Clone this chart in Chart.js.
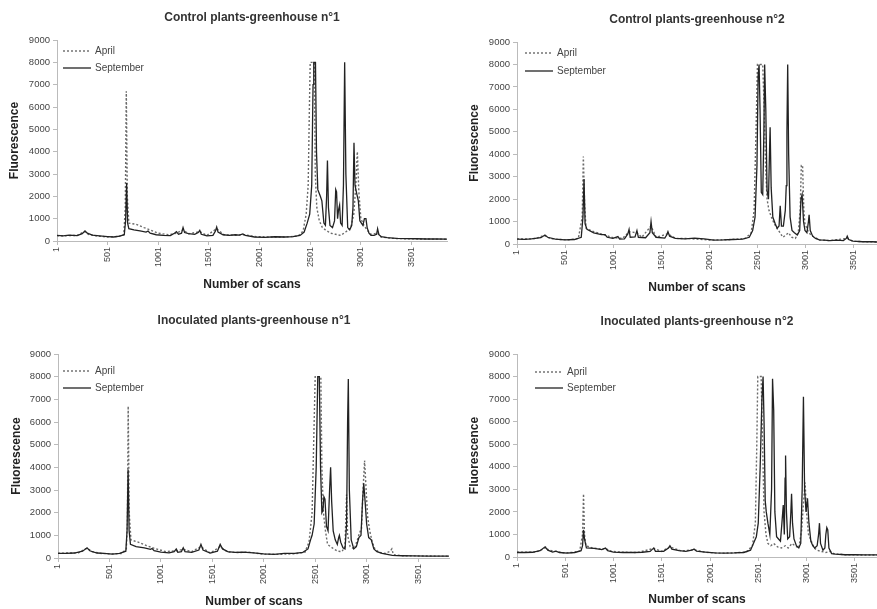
<!DOCTYPE html>
<html>
<head>
<meta charset="utf-8">
<script src="https://cdn.jsdelivr.net/npm/chart.js@4.4.1/dist/chart.umd.min.js"></script>
<style>
  body { margin: 0; background: #fff; width: 877px; height: 609px; overflow: hidden; position: relative; }
  canvas { position: absolute; }
</style>
</head>
<body>
<canvas id="c1" width="450" height="300" style="left:0;top:0"></canvas>
<canvas id="c2" width="437" height="300" style="left:440px;top:0"></canvas>
<canvas id="c3" width="450" height="309" style="left:0;top:300px"></canvas>
<canvas id="c4" width="437" height="309" style="left:440px;top:300px"></canvas>
<script>
// tick labels and titles
const xTickValues = [1, 501, 1001, 1501, 2001, 2501, 3001, 3501];
const panelTitles = ['Control plants-greenhouse n°1', 'Control plants-greenhouse n°2',
                     'Inoculated plants-greenhouse n°1', 'Inoculated plants-greenhouse n°2'];
const seriesNames = ['April', 'September'];

// Control plants - greenhouse 1
const c1AprilScans = [1, 100, 200, 260, 280, 310, 400, 500, 600, 660, 675, 685, 695, 710, 780, 860, 920, 1000, 1100, 1180, 1245, 1300, 1410, 1480, 1577, 1650, 1760, 1850, 1950, 2100, 2250, 2380, 2430, 2460, 2480, 2492, 2500, 2540, 2550, 2565, 2590, 2620, 2650, 2700, 2750, 2800, 2850, 2900, 2930, 2950, 2965, 2980, 3000, 3030, 3060, 3100, 3165, 3200, 3300, 3450, 3600, 3850];
const c1AprilValues = [230, 240, 250, 400, 420, 300, 220, 180, 200, 280, 1500, 6700, 2000, 800, 750, 600, 500, 350, 280, 350, 500, 320, 420, 250, 550, 280, 260, 280, 200, 180, 180, 220, 450, 1200, 2500, 6000, 8000, 8000, 3000, 1500, 900, 600, 500, 350, 300, 250, 400, 600, 1200, 2500, 4000, 2200, 1000, 700, 500, 300, 350, 180, 120, 100, 90, 80];
const c1SeptScans = [1, 60, 120, 200, 250, 277, 300, 350, 420, 500, 560, 620, 665, 678, 688, 698, 710, 760, 820, 880, 900, 920, 980, 1050, 1120, 1160, 1180, 1200, 1230, 1245, 1260, 1300, 1360, 1395, 1410, 1425, 1480, 1540, 1565, 1577, 1590, 1640, 1700, 1760, 1800, 1835, 1860, 1950, 2050, 2150, 2250, 2330, 2400, 2440, 2470, 2495, 2515, 2528, 2535, 2552, 2562, 2575, 2600, 2615, 2635, 2650, 2662, 2670, 2680, 2695, 2720, 2740, 2752, 2760, 2770, 2780, 2790, 2800, 2815, 2828, 2840, 2852, 2870, 2890, 2910, 2922, 2932, 2942, 2960, 2975, 2990, 3005, 3020, 3035, 3050, 3062, 3080, 3100, 3130, 3155, 3165, 3178, 3200, 3260, 3350, 3450, 3550, 3650, 3750, 3850];
const c1SeptValues = [250, 230, 260, 240, 330, 450, 350, 260, 230, 200, 180, 220, 280, 900, 2600, 800, 550, 500, 450, 400, 450, 350, 280, 250, 240, 350, 420, 300, 350, 600, 380, 330, 300, 380, 480, 300, 230, 250, 450, 620, 400, 280, 250, 280, 260, 320, 250, 180, 160, 190, 180, 200, 250, 400, 800, 1200, 2500, 7000, 8000, 8000, 4000, 2300, 2000, 1800, 800, 700, 2000, 3600, 1500, 700, 600, 900, 2300, 2200, 1000, 1400, 1600, 800, 700, 2500, 8000, 3000, 600, 500, 700, 1500, 4400, 2500, 2100, 1800, 900, 800, 700, 1000, 1000, 600, 350, 250, 250, 300, 550, 280, 200, 150, 120, 110, 100, 90, 90, 80];

// Control plants - greenhouse 2
const c2AprilScans = [1, 100, 200, 280, 300, 350, 450, 550, 640, 680, 692, 705, 720, 800, 900, 1000, 1100, 1168, 1250, 1300, 1397, 1450, 1573, 1650, 1800, 2000, 2200, 2380, 2440, 2470, 2490, 2505, 2560, 2575, 2590, 2605, 2625, 2650, 2680, 2710, 2740, 2770, 2800, 2830, 2860, 2900, 2930, 2950, 2962, 2975, 2988, 3000, 3030, 3060, 3100, 3150, 3250, 3440, 3500, 3650, 3750];
const c2AprilValues = [230, 220, 250, 380, 350, 240, 200, 190, 250, 1200, 3900, 1800, 700, 550, 420, 280, 250, 550, 500, 300, 800, 300, 450, 250, 240, 180, 190, 250, 500, 1500, 5000, 8000, 8000, 6000, 3400, 2000, 1500, 1200, 900, 700, 500, 300, 400, 500, 300, 250, 500, 1500, 3500, 3500, 1500, 900, 600, 400, 300, 180, 150, 250, 120, 100, 90];
const c2SeptScans = [1, 80, 150, 250, 292, 320, 400, 500, 600, 670, 688, 699, 710, 730, 800, 880, 918, 940, 1000, 1052, 1070, 1120, 1155, 1168, 1180, 1230, 1250, 1265, 1340, 1385, 1397, 1410, 1450, 1540, 1560, 1573, 1590, 1650, 1750, 1850, 1950, 2050, 2150, 2250, 2350, 2420, 2455, 2480, 2500, 2512, 2522, 2532, 2545, 2560, 2572, 2580, 2592, 2605, 2620, 2630, 2637, 2648, 2665, 2690, 2710, 2730, 2742, 2755, 2775, 2795, 2805, 2812, 2820, 2830, 2845, 2865, 2890, 2920, 2945, 2958, 2970, 2985, 3000, 3020, 3036, 3043, 3055, 3080, 3110, 3150, 3200, 3260, 3330, 3400, 3430, 3440, 3455, 3500, 3600, 3700, 3750];
const c2SeptValues = [220, 210, 230, 280, 400, 300, 220, 180, 200, 300, 1200, 2900, 900, 650, 500, 420, 420, 300, 250, 330, 220, 230, 450, 650, 300, 320, 600, 300, 280, 500, 1000, 500, 300, 260, 400, 550, 350, 250, 230, 260, 230, 170, 180, 200, 220, 300, 600, 1200, 3500, 7500, 8000, 6000, 2300, 2200, 5000, 8000, 6000, 2400, 2000, 4000, 5200, 2500, 1200, 900, 700, 800, 1700, 800, 800, 1500, 2600, 5000, 8000, 4000, 1200, 600, 500, 400, 600, 2000, 2200, 1000, 600, 500, 1000, 1300, 600, 350, 250, 180, 170, 150, 170, 150, 250, 350, 200, 130, 100, 100, 90];

// Inoculated plants - greenhouse 1
const c3AprilScans = [1, 100, 200, 265, 290, 330, 420, 520, 620, 665, 675, 683, 693, 710, 780, 860, 940, 1050, 1150, 1218, 1300, 1390, 1480, 1577, 1650, 1750, 1850, 2000, 2150, 2300, 2400, 2440, 2470, 2490, 2500, 2555, 2565, 2580, 2600, 2620, 2650, 2680, 2720, 2760, 2790, 2805, 2815, 2840, 2880, 2910, 2930, 2950, 2965, 2980, 2995, 3010, 3030, 3055, 3080, 3120, 3180, 3230, 3245, 3260, 3350, 3500, 3800];
const c3AprilValues = [210, 220, 230, 400, 420, 280, 200, 180, 200, 400, 1500, 6700, 2000, 800, 700, 550, 420, 280, 320, 380, 280, 500, 220, 500, 260, 240, 260, 170, 160, 190, 250, 700, 2000, 6000, 8000, 8000, 4000, 2000, 1200, 600, 500, 400, 300, 280, 500, 2800, 1000, 500, 400, 800, 1100, 1300, 3000, 4300, 3000, 1800, 1200, 700, 400, 250, 200, 300, 400, 150, 100, 90, 80];
const c3SeptScans = [1, 80, 160, 240, 283, 310, 380, 450, 530, 600, 660, 672, 682, 692, 705, 760, 840, 900, 915, 935, 1000, 1080, 1130, 1150, 1165, 1200, 1218, 1235, 1300, 1370, 1390, 1410, 1480, 1550, 1577, 1600, 1650, 1720, 1800, 1900, 2000, 2100, 2200, 2300, 2380, 2430, 2455, 2470, 2490, 2510, 2525, 2540, 2552, 2565, 2575, 2585, 2595, 2610, 2625, 2640, 2650, 2660, 2675, 2695, 2715, 2728, 2735, 2748, 2770, 2790, 2805, 2815, 2822, 2832, 2850, 2875, 2900, 2925, 2945, 2960, 2972, 2985, 3000, 3020, 3045, 3070, 3100, 3150, 3200, 3250, 3350, 3450, 3600, 3800];
const c3SeptValues = [200, 200, 220, 300, 450, 320, 220, 200, 170, 200, 300, 1200, 3900, 1200, 600, 500, 450, 380, 420, 320, 260, 230, 280, 400, 250, 280, 450, 280, 250, 350, 600, 350, 220, 300, 600, 400, 280, 250, 260, 230, 180, 160, 200, 200, 250, 400, 800, 1000, 1500, 4000, 8000, 8000, 4000, 2000, 2100, 2700, 2600, 1400, 1200, 3000, 4000, 2500, 1200, 800, 600, 900, 1000, 700, 450, 400, 1500, 6000, 7900, 3000, 800, 400, 500, 900, 1000, 2500, 3300, 2500, 1500, 900, 800, 400, 280, 200, 160, 120, 100, 90, 80, 80];

// Inoculated plants - greenhouse 2
const c4AprilScans = [1, 100, 200, 270, 300, 330, 400, 480, 580, 650, 680, 690, 700, 715, 780, 880, 917, 980, 1100, 1250, 1418, 1500, 1585, 1700, 1835, 1950, 2100, 2250, 2380, 2440, 2470, 2485, 2495, 2530, 2545, 2560, 2580, 2600, 2630, 2660, 2700, 2740, 2780, 2810, 2850, 2880, 2920, 2950, 2970, 2985, 3000, 3020, 3050, 3080, 3110, 3150, 3200, 3250, 3280, 3400, 3550, 3730];
const c4AprilValues = [220, 210, 220, 350, 430, 300, 250, 190, 200, 260, 1000, 2800, 1000, 500, 400, 350, 380, 250, 210, 200, 380, 250, 450, 270, 320, 210, 170, 180, 230, 500, 1500, 5000, 8000, 8000, 5000, 2000, 1000, 600, 500, 600, 450, 400, 500, 400, 600, 500, 400, 1200, 2500, 3300, 2000, 1000, 700, 400, 300, 250, 200, 250, 150, 100, 90, 90];
const c4SeptScans = [1, 80, 160, 240, 292, 320, 370, 405, 440, 520, 600, 665, 680, 690, 700, 720, 800, 880, 917, 940, 1000, 1100, 1200, 1300, 1380, 1405, 1418, 1435, 1520, 1570, 1585, 1605, 1680, 1750, 1810, 1835, 1860, 1950, 2050, 2150, 2250, 2350, 2420, 2460, 2480, 2500, 2520, 2538, 2550, 2560, 2572, 2583, 2600, 2620, 2638, 2648, 2660, 2672, 2690, 2710, 2730, 2745, 2759, 2770, 2778, 2783, 2792, 2805, 2825, 2838, 2845, 2855, 2870, 2895, 2920, 2940, 2955, 2968, 2980, 2995, 3010, 3025, 3045, 3065, 3085, 3110, 3125, 3134, 3145, 3170, 3190, 3200, 3210, 3220, 3232, 3260, 3300, 3400, 3500, 3600, 3730];
const c4SeptValues = [200, 200, 210, 280, 450, 300, 220, 260, 200, 170, 200, 280, 500, 1200, 800, 400, 380, 330, 400, 280, 220, 200, 200, 210, 250, 350, 400, 250, 250, 400, 500, 350, 280, 250, 300, 350, 260, 220, 180, 170, 180, 200, 300, 700, 900, 1500, 4000, 7000, 8000, 6000, 2500, 2000, 1500, 1000, 3000, 7900, 6500, 2000, 900, 800, 700, 1500, 2300, 1000, 3500, 4500, 2000, 800, 900, 2000, 2800, 1500, 800, 500, 400, 600, 3000, 7100, 3000, 2000, 2600, 1500, 700, 500, 400, 500, 1000, 1500, 600, 300, 400, 1000, 1300, 1200, 400, 150, 130, 100, 100, 90, 90];

Chart.defaults.font.family = '"Liberation Sans", Arial, sans-serif';
Chart.defaults.color = '#444';

function toPoints(scans, values) {
  return scans.map((s, i) => ({ x: s, y: values[i] }));
}

// legend drawn inside the plot, top-left
function insideLegend(dx, rows) {
  return {
    id: 'insideLegend',
    afterDraw(chart) {
      const ctx = chart.ctx, a = chart.chartArea;
      chart.data.datasets.forEach((ds, i) => {
        const y = a.top + rows[i];
        ctx.save();
        ctx.strokeStyle = ds.borderColor;
        ctx.lineWidth = ds.borderWidth;
        ctx.setLineDash(ds.borderDash || []);
        ctx.beginPath();
        ctx.moveTo(a.left + dx, y);
        ctx.lineTo(a.left + dx + 28, y);
        ctx.stroke();
        ctx.setLineDash([]);
        ctx.fillStyle = '#444';
        ctx.font = '10px "Liberation Sans", Arial, sans-serif';
        ctx.textBaseline = 'middle';
        ctx.fillText(ds.label, a.left + dx + 32, y);
        ctx.restore();
      });
    }
  };
}

function drawPanel(id, title, april, sept, L) {
  const axisGrid = { drawOnChartArea: false, drawTicks: true, tickLength: 4, color: '#bbb' };
  const boldFont = { size: 12, weight: 'bold' };
  new Chart(document.getElementById(id), {
    type: 'line',
    data: {
      datasets: [
        { label: seriesNames[0], data: april, borderColor: '#6a6a6a', borderWidth: 1.4, borderDash: [2, 2], order: 1 },
        { label: seriesNames[1], data: sept, borderColor: '#222', borderWidth: 1.3, order: 0 }
      ]
    },
    plugins: [insideLegend(L.legDx, L.legRows)],
    options: {
      responsive: false,
      animation: false,
      layout: { padding: { left: 0, right: L.padR, top: 0, bottom: 0 } },
      elements: { point: { radius: 0 }, line: { tension: 0 } },
      plugins: {
        legend: { display: false },
        tooltip: { enabled: false },
        title: {
          display: true, text: title, fullSize: false, color: '#333',
          font: boldFont, padding: { top: L.tTop, bottom: L.tBot }
        }
      },
      scales: {
        x: {
          type: 'linear', min: 1, max: L.xMax,
          afterBuildTicks: s => { s.ticks = xTickValues.map(v => ({ value: v })); },
          afterFit: s => { s.height = L.xH; },
          ticks: { minRotation: 90, maxRotation: 90, autoSkip: false, padding: 2,
                   font: { size: 9 }, color: '#444', callback: v => String(v) },
          grid: axisGrid,
          border: { color: '#bbb' },
          title: { display: true, text: 'Number of scans', color: '#222', font: boldFont,
                   padding: { top: 0, bottom: L.xtPad } }
        },
        y: {
          min: 0, max: 9000,
          afterFit: s => { s.width = L.yW; },
          ticks: { stepSize: 1000, padding: 3, font: { size: 9.5 }, color: '#444', callback: v => String(v) },
          grid: axisGrid,
          border: { color: '#bbb' },
          title: { display: true, text: 'Fluorescence', color: '#222', font: boldFont,
                   padding: { top: L.ytPad, bottom: 0 } }
        }
      }
    }
  });
}

drawPanel('c1', panelTitles[0], toPoints(c1AprilScans, c1AprilValues), toPoints(c1SeptScans, c1SeptValues),
  { padR: 3, tTop: 10, tBot: 15.6, xMax: 3850, xH: 59, xtPad: 7.8, yW: 57, ytPad: 7.8, legDx: 6, legRows: [11, 28] });
drawPanel('c2', panelTitles[1], toPoints(c2AprilScans, c2AprilValues), toPoints(c2SeptScans, c2SeptValues),
  { padR: 0, tTop: 12, tBot: 15.6, xMax: 3750, xH: 56, xtPad: 4.8, yW: 77, ytPad: 27.8, legDx: 8, legRows: [11, 29] });
drawPanel('c3', panelTitles[2], toPoints(c3AprilScans, c3AprilValues), toPoints(c3SeptScans, c3SeptValues),
  { padR: 0, tTop: 13, tBot: 26.6, xMax: 3810, xH: 51, xtPad: 0, yW: 58, ytPad: 9.8, legDx: 5, legRows: [17, 34] });
drawPanel('c4', panelTitles[3], toPoints(c4AprilScans, c4AprilValues), toPoints(c4SeptScans, c4SeptValues),
  { padR: 0, tTop: 14, tBot: 25.6, xMax: 3730, xH: 52, xtPad: 1.8, yW: 77, ytPad: 27.8, legDx: 18, legRows: [18, 34] });
</script>
</body>
</html>
